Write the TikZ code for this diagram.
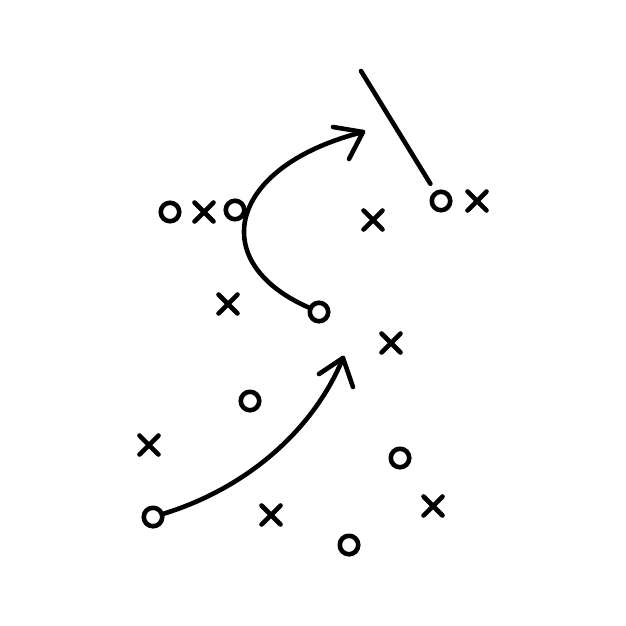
\documentclass[tikz,border=0pt]{standalone}
\usetikzlibrary{shapes.misc}
\begin{document}
\begin{tikzpicture}[x=1pt,y=-1pt,
  line width=4.6pt, line cap=round, line join=round,
  pO/.style={circle, draw, minimum size=18.5pt, inner sep=0pt, outer sep=2pt},
  pX/.style={cross out, draw, minimum size=19pt, inner sep=0pt, outer sep=0pt},
  play/.style={draw}]
\useasboundingbox[fill=white] (0,0) rectangle (626,626);
% circles
\node[pO] (o1) at (170,212) {};
\node[pO] (o2) at (235,210) {};
\node[pO] (o3) at (319,312) {};
\node[pO] (o4) at (441,201) {};
\node[pO] (o5) at (250,401) {};
\node[pO] (o6) at (400,458) {};
\node[pO] (o7) at (153,517) {};
\node[pO] (o8) at (349,545) {};
% crosses
\node[pX] (x1) at (204,212) {};
\node[pX] (x2) at (373,220) {};
\node[pX] (x3) at (477,201) {};
\node[pX] (x4) at (228,304) {};
\node[pX] (x5) at (391,343) {};
\node[pX] (x6) at (149,445) {};
\node[pX] (x7) at (271,515) {};
\node[pX] (x8) at (433,506) {};
% route 1
\coordinate (t1) at (363,132);
\coordinate (t1a) at (333,127);
\coordinate (t1b) at (349,159);
\draw[play] (o3) .. controls (205,262) and (228,166) .. (t1);
\draw[play] (t1a) -- (t1) -- (t1b);
% line
\coordinate (l1) at (361,71);
\draw[play, shorten >=9pt] (l1) -- (o4);
% route 2
\coordinate (t2) at (343,358);
\coordinate (t2a) at (319,374);
\coordinate (t2b) at (353,387);
\draw[play] (o7) .. controls (250,487) and (315,427) .. (t2);
\draw[play] (t2a) -- (t2) -- (t2b);
\end{tikzpicture}
\end{document}
